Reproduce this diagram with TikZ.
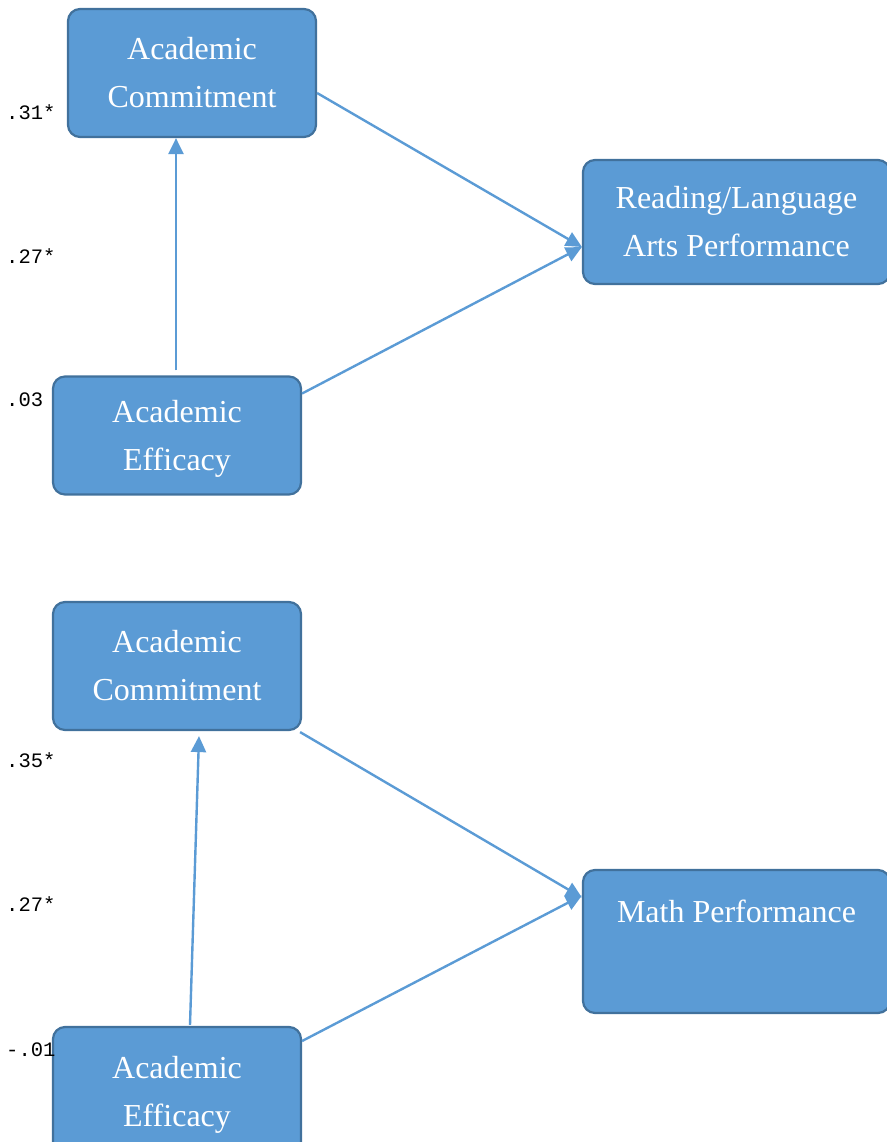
\documentclass[tikz,border=0pt]{standalone}
\usepackage{fontspec}
\setmainfont{Liberation Serif}
\newfontfamily\coeffont{Liberation Mono}
\usepackage{xcolor}
\usetikzlibrary{arrows.meta, positioning, calc}
\definecolor{boxfill}{HTML}{5B9BD5}
\definecolor{boxline}{HTML}{41719C}

\begin{document}
\begin{tikzpicture}[x=1pt, y=-1pt,
    varbox/.style={draw=boxline, line width=2.2pt, fill=boxfill, rounded corners=12pt,
        text=white, align=center, font=\fontsize{32}{48}\selectfont,
        minimum width=248pt, minimum height=128pt, inner sep=0pt},
    path/.style={draw=boxfill, line width=2.4pt, -{Triangle[length=16pt, width=15pt]}},
    coef/.style={anchor=west, inner sep=0pt, font=\coeffont\fontsize{20.5}{21}\selectfont}]
\useasboundingbox (0,0) rectangle (886,1142);

% Reading / language arts model
\node[varbox] (acTop) at (192,73) {Academic\\Commitment};
\node[varbox, minimum width=307pt, minimum height=124pt] (raPerf) at (736.5,222) {Reading/Language\\Arts Performance};
\node[varbox, minimum height=118pt, text depth=0pt] (aeTop) at (177,435.5) {Academic\\Efficacy};
\draw[path] ([yshift=-20pt]acTop.east) -- ([yshift=-25pt]raPerf.west);
\draw[path] ([yshift=42pt]aeTop.east) -- ([yshift=-25pt]raPerf.west);
\draw[path] ([xshift=-1pt,yshift=5pt]aeTop.north) -- ([xshift=-16pt]acTop.south);
\node[coef] (b1) at (6,112) {.31*};
\node[coef] (b2) at (6,256) {.27*};
\node[coef] (b3) at (6,400) {.03};

% Math model
\node[varbox] (acBot) at (177,666) {Academic\\Commitment};
\node[varbox, minimum width=307pt, minimum height=143pt] (mathPerf) at (736.5,941.5) {Math Performance\\[12pt]\mbox{}};
\node[varbox, text depth=0pt] (aeBot) at (177,1091) {Academic\\Efficacy};
\draw[path] ([xshift=-2pt,yshift=-1pt]acBot.south east) -- ([yshift=44pt]mathPerf.west);
\draw[path] ([yshift=50pt]aeBot.east) -- ([yshift=46pt]mathPerf.west);
\draw[path] ([xshift=13pt,yshift=1pt]aeBot.north) -- ([xshift=22pt,yshift=-5pt]acBot.south);
\node[coef] (b4) at (6,760) {.35*};
\node[coef] (b5) at (6,904) {.27*};
\node[coef] (b6) at (6,1050) {-.01};
\end{tikzpicture}
\end{document}
